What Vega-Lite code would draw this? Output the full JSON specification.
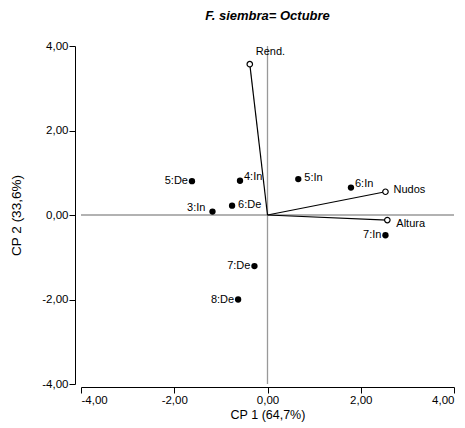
{
  "$schema": "https://vega.github.io/schema/vega-lite/v6.json",
  "autosize": "none",
  "width": 373,
  "height": 338,
  "padding": {"left": 81, "top": 46, "right": 11, "bottom": 44},
  "background": "white",
  "title": {"text": "F. siembra= Octubre", "font": "Liberation Sans", "fontSize": 13, "fontWeight": "bold", "fontStyle": "italic", "color": "black", "offset": 17},
  "config": {
    "view": {"stroke": null},
    "font": "Liberation Sans",
    "axis": {"grid": false, "domainColor": "black", "tickColor": "black", "labelColor": "black", "titleColor": "black", "labelFont": "Liberation Sans", "titleFont": "Liberation Sans", "labelFontSize": 11.5, "titleFontSize": 12.5, "titleFontWeight": "normal", "tickSize": 6, "labelPadding": 2}
  },
  "datasets": {
    "obs": [
      {"label": "5:De", "cp1": -1.62, "cp2": 0.80},
      {"label": "4:In", "cp1": -0.59, "cp2": 0.81},
      {"label": "5:In", "cp1": 0.66, "cp2": 0.85},
      {"label": "6:In", "cp1": 1.79, "cp2": 0.65},
      {"label": "3:In", "cp1": -1.18, "cp2": 0.08},
      {"label": "6:De", "cp1": -0.76, "cp2": 0.22},
      {"label": "7:In", "cp1": 2.53, "cp2": -0.48},
      {"label": "7:De", "cp1": -0.28, "cp2": -1.21},
      {"label": "8:De", "cp1": -0.63, "cp2": -2.00}
    ],
    "vars": [
      {"label": "Rend.", "cp1": -0.38, "cp2": 3.57, "o1": 0, "o2": 0},
      {"label": "Nudos", "cp1": 2.53, "cp2": 0.55, "o1": 0, "o2": 0},
      {"label": "Altura", "cp1": 2.57, "cp2": -0.12, "o1": 0, "o2": 0}
    ],
    "zero": [{"z": 0}]
  },
  "layer": [
    {
      "data": {"name": "zero"},
      "mark": {"type": "rule", "color": "#999999", "strokeWidth": 1.3},
      "encoding": {"y": {"field": "z", "type": "quantitative"}}
    },
    {
      "data": {"name": "zero"},
      "mark": {"type": "rule", "color": "#999999", "strokeWidth": 1.3},
      "encoding": {"x": {"field": "z", "type": "quantitative"}}
    },
    {
      "data": {"name": "vars"},
      "mark": {"type": "rule", "color": "black", "strokeWidth": 1.2},
      "encoding": {
        "x": {"field": "o1", "type": "quantitative"},
        "y": {"field": "o2", "type": "quantitative"},
        "x2": {"field": "cp1"},
        "y2": {"field": "cp2"}
      }
    },
    {
      "data": {"name": "vars"},
      "mark": {"type": "point", "shape": "circle", "filled": true, "fill": "white", "stroke": "black", "strokeWidth": 1.2, "size": 30, "opacity": 1},
      "encoding": {
        "x": {"field": "cp1", "type": "quantitative"},
        "y": {"field": "cp2", "type": "quantitative"}
      }
    },
    {
      "data": {"name": "obs"},
      "mark": {"type": "point", "shape": "circle", "filled": true, "color": "black", "size": 40, "opacity": 1},
      "encoding": {
        "x": {"field": "cp1", "type": "quantitative", "scale": {"domain": [-4, 4], "nice": false}, "title": "CP 1 (64,7%)",
          "axis": {"values": [-4, -2, 0, 2, 4], "offset": 3, "labelExpr": "replace(replace(format(datum.value, '.2f'), '.', ','), '\u2212', '-')", "labelPadding": 1, "titlePadding": 3}},
        "y": {"field": "cp2", "type": "quantitative", "scale": {"domain": [-4, 4], "nice": false}, "title": "CP 2 (33,6%)",
          "axis": {"values": [-4, -2, 0, 2, 4], "offset": 6, "labelExpr": "replace(replace(format(datum.value, '.2f'), '.', ','), '\u2212', '-')", "labelPadding": 1, "titlePadding": 18, "titleFontSize": 13.5}}
      }
    },
    {
      "data": {"name": "obs"},
      "transform": [{"filter": {"field": "label", "oneOf": ["5:In", "6:De"]}}],
      "mark": {"type": "text", "align": "left", "baseline": "middle", "dx": 6, "dy": -1, "fontSize": 11, "color": "black"},
      "encoding": {"x": {"field": "cp1", "type": "quantitative"}, "y": {"field": "cp2", "type": "quantitative"}, "text": {"field": "label"}}
    },
    {
      "data": {"name": "obs"},
      "transform": [{"filter": {"field": "label", "oneOf": ["4:In", "6:In"]}}],
      "mark": {"type": "text", "align": "left", "baseline": "middle", "dx": 4, "dy": -4, "fontSize": 11, "color": "black"},
      "encoding": {"x": {"field": "cp1", "type": "quantitative"}, "y": {"field": "cp2", "type": "quantitative"}, "text": {"field": "label"}}
    },
    {
      "data": {"name": "obs"},
      "transform": [{"filter": {"field": "label", "oneOf": ["5:De", "7:In", "7:De", "8:De"]}}],
      "mark": {"type": "text", "align": "right", "baseline": "middle", "dx": -4, "dy": 0, "fontSize": 11, "color": "black"},
      "encoding": {"x": {"field": "cp1", "type": "quantitative"}, "y": {"field": "cp2", "type": "quantitative"}, "text": {"field": "label"}}
    },
    {
      "data": {"name": "obs"},
      "transform": [{"filter": {"field": "label", "oneOf": ["3:In"]}}],
      "mark": {"type": "text", "align": "right", "baseline": "middle", "dx": -7, "dy": -4, "fontSize": 11, "color": "black"},
      "encoding": {"x": {"field": "cp1", "type": "quantitative"}, "y": {"field": "cp2", "type": "quantitative"}, "text": {"field": "label"}}
    },
    {
      "data": {"name": "vars"},
      "transform": [{"filter": {"field": "label", "oneOf": ["Nudos"]}}],
      "mark": {"type": "text", "align": "left", "baseline": "middle", "dx": 8, "dy": -2, "fontSize": 11, "color": "black"},
      "encoding": {"x": {"field": "cp1", "type": "quantitative"}, "y": {"field": "cp2", "type": "quantitative"}, "text": {"field": "label"}}
    },
    {
      "data": {"name": "vars"},
      "transform": [{"filter": {"field": "label", "oneOf": ["Altura"]}}],
      "mark": {"type": "text", "align": "left", "baseline": "middle", "dx": 9, "dy": 4, "fontSize": 11, "color": "black"},
      "encoding": {"x": {"field": "cp1", "type": "quantitative"}, "y": {"field": "cp2", "type": "quantitative"}, "text": {"field": "label"}}
    },
    {
      "data": {"name": "vars"},
      "transform": [{"filter": {"field": "label", "oneOf": ["Rend."]}}],
      "mark": {"type": "text", "align": "left", "baseline": "middle", "dx": 6, "dy": -12, "fontSize": 11, "color": "black"},
      "encoding": {"x": {"field": "cp1", "type": "quantitative"}, "y": {"field": "cp2", "type": "quantitative"}, "text": {"field": "label"}}
    }
  ]
}
